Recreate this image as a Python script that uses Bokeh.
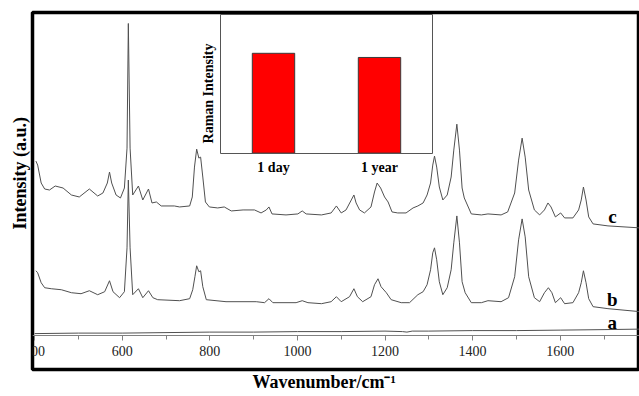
from bokeh.plotting import figure
from bokeh.models import Range1d, LinearAxis, SingleIntervalTicker, FixedTicker, Title
from bokeh.embed import file_html
from bokeh.resources import INLINE
from bokeh.core.properties import value

# ---------------- data ----------------
wavenumber_c = [403, 407, 415, 423, 434, 447, 465, 484, 502, 525, 544, 556, 566, 571, 576, 586, 596, 605,
                611, 614, 618, 624, 637, 647, 660, 668, 678, 689, 719, 731, 754, 760, 765, 770, 775, 779,
                784, 790, 799, 818, 833, 849, 876, 902, 917, 929, 935, 942, 974, 1001, 1011, 1020, 1055,
                1077, 1089, 1100, 1111, 1123, 1129, 1134, 1142, 1153, 1168, 1176, 1182, 1190, 1199, 1207,
                1216, 1229, 1248, 1264, 1275, 1287, 1296, 1304, 1309, 1313, 1318, 1324, 1332, 1342, 1351,
                1357, 1364, 1370, 1376, 1381, 1397, 1420, 1435, 1465, 1480, 1496, 1505, 1513, 1520, 1528,
                1541, 1553, 1564, 1572, 1579, 1589, 1601, 1610, 1629, 1642, 1648, 1653, 1659, 1665, 1675,
                1709, 1782]
intensity_c = [209, 205, 187, 181, 180, 184, 182, 175, 173, 181, 174, 177, 187, 198, 187, 175, 172, 182,
               222, 347, 222, 175, 184, 170, 181, 167, 168, 164, 164, 163, 164, 173, 203, 221, 212, 213,
               193, 168, 163, 162, 163, 159, 160, 160, 157, 160, 163, 156, 155, 156, 159, 156, 155,
               157, 164, 157, 160, 170, 175, 167, 160, 157, 163, 178, 187, 182, 173, 168,
               158, 157, 157, 162, 164, 167, 175, 187, 205, 214, 203, 183, 170, 175, 193,
               220, 246, 220, 182, 172, 156, 155, 156, 155, 158, 177, 210, 232, 213, 180,
               160, 155, 160, 167, 163, 153, 157, 152, 152, 160, 170, 183, 170, 153, 146,
               144, 142]

wavenumber_b = [403, 407, 415, 423, 438, 461, 484, 506, 525, 544, 560, 571, 579, 594, 605, 611, 614, 618,
                624, 637, 647, 660, 670, 681, 731, 754, 761, 766, 770, 775, 779, 784, 792, 837, 906, 925,
                935, 944, 997, 1011, 1024, 1055, 1077, 1089, 1100, 1119, 1129, 1137, 1149, 1168, 1176,
                1184, 1191, 1203, 1214, 1237, 1256, 1275, 1287, 1296, 1304, 1309, 1313, 1318, 1324, 1332,
                1342, 1351, 1357, 1364, 1370, 1376, 1383, 1397, 1420, 1435, 1465, 1482, 1496, 1505, 1513,
                1520, 1528, 1541, 1553, 1564, 1573, 1581, 1589, 1601, 1610, 1629, 1642, 1648, 1653, 1659,
                1665, 1675, 1709, 1782]
intensity_b = [99, 97, 87, 82, 81, 80, 77, 76, 79, 75, 78, 89, 78, 72, 78, 122, 190, 122,
               75, 81, 72, 79, 72, 70, 69, 71, 80, 93, 104, 98, 99, 83, 70, 68, 68, 67,
               71, 67, 67, 69, 67, 66, 68, 73, 68, 73, 81, 73, 68, 73, 85,
               91, 83, 77, 70, 67, 67, 75, 78, 85, 100, 117, 122, 110, 88, 75,
               82, 100, 127, 154, 127, 88, 77, 67, 67, 69, 68, 72, 93, 130, 151,
               133, 93, 72, 68, 77, 82, 77, 67, 72, 66, 67, 77, 87, 99, 87,
               71, 63, 61, 58]

wavenumber_a = [400, 500, 600, 700, 800, 900, 1000, 1100, 1200, 1240, 1250, 1262, 1300, 1400, 1500,
                1600, 1700, 1782]
intensity_a = [36, 36.5, 36.5, 37, 37.5, 37.5, 38, 38, 38.5, 38, 37.5, 38.5, 38.5, 39, 39,
               39.5, 40, 40.5]

series_names = ["c", "b", "a"]
series_label_x = [1719, 1719, 1719]
series_label_y = [153, 70, 47]

inset_categories = ["1 day", "1 year"]
inset_values = [0.72, 0.69]

x_title = "Wavenumber/cm\u207b\u00b9"
y_title = "Intensity (a.u.)"
inset_y_title = "Raman Intensity"

FONT = "Liberation Serif"

# ---------------- figure ----------------
p = figure(width=639, height=396, output_backend="svg", toolbar_location=None,
           x_range=Range1d(395.2, 1781), y_range=Range1d(0, 358),
           x_axis_location=None, y_axis_location=None,
           min_border_left=32, min_border_right=0, min_border_top=12, min_border_bottom=26)
for g in p.grid:
    g.visible = False
p.outline_line_color = "black"
p.outline_line_width = 3.5
p.background_fill_color = "white"
p.border_fill_color = "white"

p.extra_x_ranges = {"inset_x": Range1d(-1.7736, 3.9528)}
p.extra_y_ranges = {"inset_y": Range1d(-1.5611, 1.0144)}

# main x axis (inside the box)
xaxis = LinearAxis(ticker=SingleIntervalTicker(interval=200, num_minor_ticks=2), fixed_location=34)
xaxis.axis_line_color = "#808080"
xaxis.axis_line_width = 1
xaxis.major_tick_line_color = "#808080"
xaxis.minor_tick_line_color = "#808080"
xaxis.major_tick_in = 0
xaxis.major_tick_out = 5
xaxis.minor_tick_in = 0
xaxis.minor_tick_out = 4
xaxis.major_label_text_font = FONT
xaxis.major_label_text_font_size = "14px"
xaxis.major_label_text_color = "#222222"
xaxis.major_label_standoff = 5
p.add_layout(xaxis, "below")

# axis titles, outside the box
p.add_layout(Title(text=x_title, align="left", offset=220, standoff=5, vertical_align="top",
                   text_font=FONT, text_font_size="18px", text_font_style="bold",
                   text_color="black"), "below")
p.add_layout(Title(text=y_title, align="left", offset=140, standoff=5,
                   text_font=FONT, text_font_size="18px", text_font_style="bold",
                   text_color="black"), "left")

# spectra
line_color = "#505050"
p.line(wavenumber_a, intensity_a, line_color=line_color, line_width=1)
p.line(wavenumber_b, intensity_b, line_color=line_color, line_width=1)
p.line(wavenumber_c, intensity_c, line_color=line_color, line_width=1)

p.text(x=series_label_x, y=series_label_y, text=series_names,
       text_font=value(FONT), text_font_style="bold", text_font_size="19px",
       text_align="center", text_baseline="middle", text_color="black")

# ---------------- inset bar chart ----------------
inset_x = [i + 0.5 for i in range(len(inset_categories))]
p.vbar(x=inset_x, top=inset_values, bottom=0, width=0.4,
       fill_color="#ff0000", line_color="#3a3a3a", line_width=1,
       x_range_name="inset_x", y_range_name="inset_y")

frame_color = "#555555"
n_cat = len(inset_categories)

ib = LinearAxis(x_range_name="inset_x", y_range_name="inset_y", fixed_location=0, bounds=(0, n_cat),
                ticker=FixedTicker(ticks=inset_x),
                major_label_overrides={x: c for x, c in zip(inset_x, inset_categories)})
ib.axis_line_color = frame_color
ib.major_tick_out = 0
ib.major_tick_in = 0
ib.minor_tick_out = 0
ib.major_label_standoff = 7
ib.major_label_text_font = FONT
ib.major_label_text_font_size = "14px"
ib.major_label_text_font_style = "bold"
ib.major_label_text_color = "black"
p.add_layout(ib, "below")

for loc, side, bnds in [(1, "above", (0, n_cat)), (0, "left", (0, 1)), (n_cat, "right", (0, 1))]:
    ax = LinearAxis(x_range_name="inset_x", y_range_name="inset_y", fixed_location=loc, bounds=bnds,
                    ticker=FixedTicker(ticks=[]))
    ax.axis_line_color = frame_color
    ax.major_tick_out = 0
    ax.minor_tick_out = 0
    p.add_layout(ax, side)

il = LinearAxis(x_range_name="inset_x", y_range_name="inset_y", fixed_location=0, bounds=(-0.14, 1),
                ticker=FixedTicker(ticks=[]), axis_label=inset_y_title)
il.axis_line_color = None
il.major_tick_out = 0
il.minor_tick_out = 0
il.axis_label_standoff = 5
il.axis_label_text_font = FONT
il.axis_label_text_font_size = "14px"
il.axis_label_text_font_style = "bold"
il.axis_label_text_color = "black"
p.add_layout(il, "left")

open("out.html", "w").write(file_html(p, INLINE))
